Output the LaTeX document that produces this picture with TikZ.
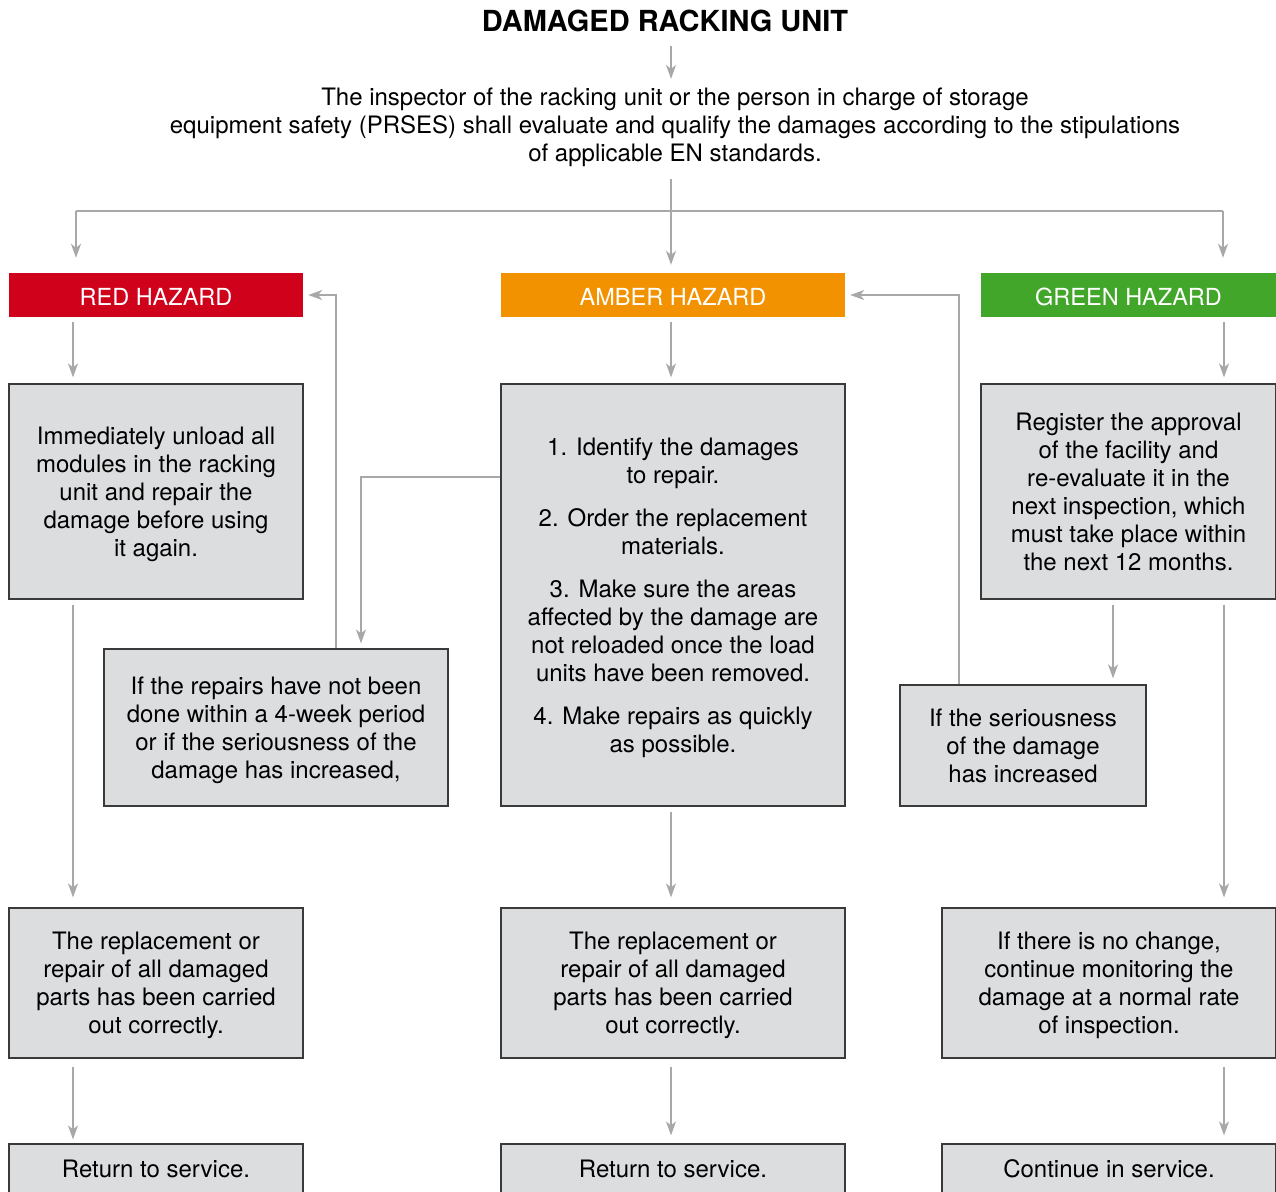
\documentclass[tikz,border=0pt]{standalone}
\usepackage{fontspec}
\setmainfont{TeX Gyre Heros}
\usetikzlibrary{arrows.meta}
\definecolor{hzred}{HTML}{D0021B}
\definecolor{hzamber}{HTML}{F39200}
\definecolor{hzgreen}{HTML}{41A62A}
\definecolor{boxfill}{HTML}{DCDDDF}
\definecolor{boxline}{HTML}{3A3A3A}
\definecolor{linkgray}{HTML}{A8A8A8}
\newcommand{\bodyfont}{\fontsize{24}{28}\selectfont}

\begin{document}
\begin{tikzpicture}[x=1pt,y=-1pt,
    box/.style={draw=boxline, fill=boxfill, line width=1.2pt, align=center, inner sep=0pt, font=\bodyfont},
    lines/.style={box, text depth=0pt},
    hazard/.style={fill=#1, text=white, minimum height=44pt, inner sep=0pt, text height=21pt, text depth=0pt, font=\fontsize{23.5}{28}\selectfont},
    link/.style={draw=linkgray, line width=1.5pt},
    arr/.style={link, -{Stealth[length=14pt,width=10pt,inset=4pt]}, shorten <=5pt, shorten >=6pt}
  ]
  \useasboundingbox (0,0) rectangle (1276,1191);
  \clip (0,0) rectangle (1276,1191);

  % title and introduction
  \node[font=\fontsize{29}{34}\selectfont\bfseries, inner sep=0pt, anchor=base] (title) at (665,31) {DAMAGED RACKING UNIT};
  \node[font=\bodyfont, align=center, inner sep=0pt] (intro) at (675,127.5)
    {The inspector of the racking unit or the person in charge of storage\\
     equipment safety (PRSES) shall evaluate and qualify the damages according to the stipulations\\
     of applicable EN standards.};

  % hazard levels
  \node[hazard=hzred, minimum width=294pt] (red) at (156,295) {RED HAZARD};
  \node[hazard=hzamber, minimum width=344pt] (amber) at (673,295) {AMBER HAZARD};
  \node[hazard=hzgreen, minimum width=295pt] (green) at (1128.5,295) {GREEN HAZARD};

  % first actions
  \node[lines, minimum width=294pt, minimum height=215pt] (red1) at (156,491.5)
    {Immediately unload all\\modules in the racking\\unit and repair the\\damage before using\\it again.};
  \node[lines, minimum width=344pt, minimum height=422pt] (amber1) at (673,595)
    {1. Identify the damages\\to repair.\\[15pt]
     2. Order the replacement\\materials.\\[15pt]
     3. Make sure the areas\\affected by the damage are\\not reloaded once the load\\units have been removed.\\[15pt]
     4. Make repairs as quickly\\as possible.};
  \node[lines, minimum width=295pt, minimum height=215pt] (green1) at (1128.5,491.5)
    {Register the approval\\of the facility and\\re-evaluate it in the\\next inspection, which\\must take place within\\the next 12 months.};

  % conditions
  \node[lines, minimum width=344pt, minimum height=157pt] (red2) at (276,727.5)
    {If the repairs have not been\\done within a 4-week period\\or if the seriousness of the\\damage has increased,};
  \node[lines, minimum width=246pt, minimum height=121pt] (green2) at (1023,745.5)
    {If the seriousness\\of the damage\\has increased};

  % results
  \node[lines, minimum width=294pt, minimum height=150pt] (red3) at (156,983)
    {The replacement or\\repair of all damaged\\parts has been carried\\out correctly.};
  \node[lines, minimum width=344pt, minimum height=150pt] (amber3) at (673,983)
    {The replacement or\\repair of all damaged\\parts has been carried\\out correctly.};
  \node[lines, minimum width=334pt, minimum height=150pt] (green3) at (1109,983)
    {If there is no change,\\continue monitoring the\\damage at a normal rate\\of inspection.};

  \node[box, minimum width=294pt, minimum height=50pt] (red4) at (156,1169) {Return to service.};
  \node[box, minimum width=344pt, minimum height=50pt] (amber4) at (673,1169) {Return to service.};
  \node[box, minimum width=334pt, minimum height=50pt] (green4) at (1109,1169) {Continue in service.};

  % columns of the arrows
  \coordinate (split) at (671,211);
  \coordinate (splitL) at (76,211);
  \coordinate (splitR) at (1223,211);
  \coordinate (colL) at (73,0);
  \coordinate (colM) at (671,0);
  \coordinate (colR) at (1224,0);
  \coordinate (colG2) at (1113,0);
  \coordinate (backA) at (361,477);
  \coordinate (backR) at (336,0);
  \coordinate (backG) at (959,0);

  \draw[arr, shorten <=14pt, shorten >=9pt] (title.south -| colM) -- (intro.north -| colM);
  \draw[arr, shorten <=12pt, shorten >=8pt] (intro.south -| colM) -- (amber.north -| colM);
  \draw[link] (splitL) -- (splitR);
  \draw[arr, shorten <=0pt, shorten >=15pt] (splitL) -- (splitL |- red.north);
  \draw[arr, shorten <=0pt, shorten >=15pt] (splitR) -- (splitR |- green.north);

  % red column
  \draw[arr] (red.south -| colL) -- (red1.north -| colL);
  \draw[arr, shorten >=10pt] (red1.south -| colL) -- (red3.north -| colL);
  \draw[arr, shorten <=8pt, shorten >=4pt] (red3.south -| colL) -- (red4.north -| colL);

  % amber column
  \draw[arr] (amber.south -| colM) -- (amber1.north -| colM);
  \draw[arr, shorten >=10pt] (amber1.south -| colM) -- (amber3.north -| colM);
  \draw[arr, shorten <=8pt, shorten >=8pt] (amber3.south -| colM) -- (amber4.north -| colM);

  % green column
  \draw[arr] (green.south -| colR) -- (green1.north -| colR);
  \draw[arr] (green1.south -| colG2) -- (green2.north -| colG2);
  \draw[arr, shorten >=10pt] (green1.south -| colR) -- (green3.north -| colR);
  \draw[arr, shorten <=8pt, shorten >=8pt] (green3.south -| colR) -- (green4.north -| colR);

  % back loops
  \draw[arr, shorten <=0pt, shorten >=5pt] (amber1.west |- backA) -- (backA) -- (backA |- red2.north);
  \draw[arr, shorten <=0pt, shorten >=5pt] (red2.north -| backR) -- (backR |- red.east) -- (red.east);
  \draw[arr, shorten <=0pt, shorten >=5pt] (green2.north -| backG) -- (backG |- amber.east) -- (amber.east);
\end{tikzpicture}
\end{document}
